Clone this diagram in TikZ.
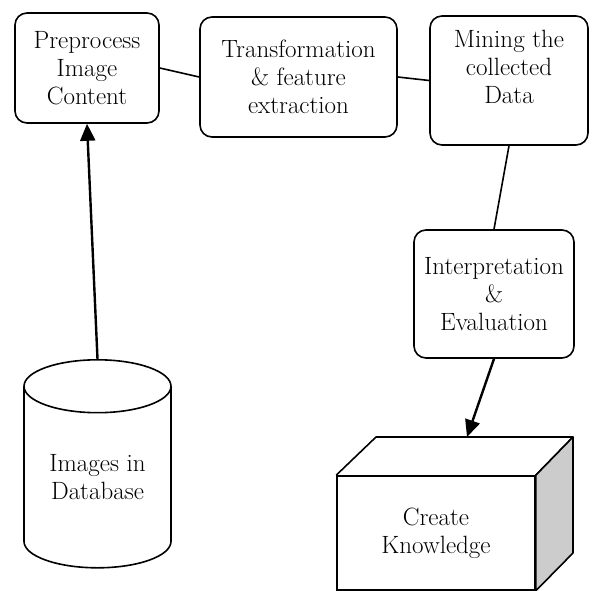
\documentclass[tikz,border=0pt]{standalone}
\usepackage{tikz}
\usetikzlibrary{shapes.geometric,arrows.meta}

\begin{document}
\begin{tikzpicture}[x=1pt, y=-1pt,
    block/.style={rectangle, draw, rounded corners=12pt, line width=1.6pt, align=center, inner sep=0pt, font=\fontsize{25}{28}\selectfont},
    store/.style={cylinder, shape border rotate=90, draw, line width=1.6pt, aspect=0.55, align=center, inner sep=0pt, font=\fontsize{25}{28}\selectfont},
    face/.style={rectangle, draw, line width=1.6pt, align=center, inner sep=0pt, font=\fontsize{25}{28}\selectfont}]

    \useasboundingbox (0,0) rectangle (592,590);

    \node[block, minimum width=144pt, minimum height=110pt] (pre) at (87,68) {Preprocess\\Image\\Content};
    \node[block, minimum width=197pt, minimum height=120pt] (trans) at (298.5,77) {Transformation\\\& feature\\extraction};
    \node[block, minimum width=158pt, minimum height=129pt] (mine) at (509,80.5) {Mining the\\collected\\Data\\\mbox{}};
    \node[block, minimum width=160pt, minimum height=128pt] (interp) at (494,294) {Interpretation\\\&\\Evaluation};
    \node[store, minimum width=147pt, minimum height=208pt, anchor=north] (db) at (97.5,359) {Images in\\Database};
    \node[face, minimum width=198pt, minimum height=114pt] (know) at (436,533) {Create\\Knowledge};

    % box sides
    \draw[line width=1.6pt, line join=round] (know.north west) -- (376,437) -- (573,437) -- (know.north east);
    \draw[line width=1.6pt, line join=round, fill=gray!40] (know.north east) -- (573,437) -- (573,553) -- (know.south east) -- cycle;
    \coordinate (kin) at (467,437);

    \draw[line width=1.6pt] (pre.east) -- (trans.west);
    \draw[line width=1.6pt] (trans.east) -- (mine.west);
    \draw[line width=1.6pt] (mine.south) -- (interp.north);
    \draw[-{Triangle[length=17pt,width=15pt]}, line width=2.4pt] (interp.south) -- (kin);
    \draw[-{Triangle[length=17pt,width=15pt]}, line width=2.4pt] (db.north) -- (pre.south);
\end{tikzpicture}
\end{document}
